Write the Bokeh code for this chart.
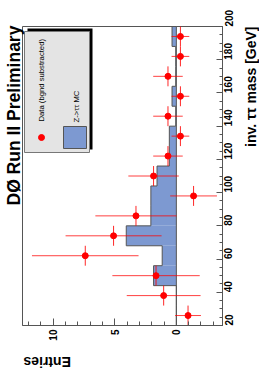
import math
from bokeh.plotting import figure
from bokeh.models import Range1d, SingleIntervalTicker, Label, LinearAxis
from bokeh.embed import file_html
from bokeh.resources import INLINE

# ---------------- data ----------------
bin_width = 12.0
bin_centers = [26, 38, 50, 62, 74, 86, 98, 110, 122, 134, 146, 158, 170, 182, 194]
mc_values = [0.0, 0.0, 1.85, 1.15, 4.07, 2.07, 2.07, 1.57, 0.57, 0.57, 0.05, 0.35, 0.05, 0.05, 0.35]
data_values = [-0.95, 1.03, 1.65, 7.4, 5.1, 3.28, -1.4, 1.85, 0.68, -0.33, 0.68, -0.33, 0.68, -0.33, -0.33]
data_errors = [1.05, 3.0, 3.55, 4.33, 3.9, 3.3, 1.9, 2.05, 1.2, 0.72, 1.2, 0.72, 1.2, 0.72, 0.72]

title_text = "DØ Run II Preliminary"
x_title = "inv. ττ mass [GeV]"
y_title = "Entries"
legend_data = "Data (bgnd substracted)"
legend_mc = "Z->ττ MC"

# ---------------- layout ----------------
W, H = 259, 382
OFF = 0
ENT_START, ENT_END = 12.5, -3.75   # entries axis, drawn right-to-left
M_START, M_END = 20.0, 200.0       # mass axis, bottom-to-top
FL, FR, FT, FB = 22, 222, 26, 325  # plot box in picture pixels


def ex(px):
    return ENT_START + (px - FL) * (ENT_END - ENT_START) / (FR - FL)


def my(py):
    return M_END - (py - FT) * (M_END - M_START) / (FB - FT)


BLUE = "#7d99d1"
RED = "#ff0000"
GRAY = "#555555"
FONT = "Liberation Sans"

p = figure(width=W, height=H, output_backend="svg", toolbar_location=None,
           title=None, x_range=Range1d(ex(OFF), ex(OFF + W)),
           y_range=Range1d(my(OFF + H), my(OFF)),
           x_axis_location=None, y_axis_location=None, min_border=0)
p.grid.visible = False
p.outline_line_color = None
p.background_fill_color = "white"
p.border_fill_color = "white"

# axes, fixed on the plot box edges
xa = LinearAxis(fixed_location=M_START, bounds=(ENT_END, ENT_START))
xa.ticker = SingleIntervalTicker(interval=5, num_minor_ticks=5)
xa.major_tick_in = 7
xa.major_tick_out = 0
xa.minor_tick_in = 4
xa.minor_tick_out = 0
xa.axis_line_color = GRAY
xa.major_tick_line_color = GRAY
xa.minor_tick_line_color = GRAY
xa.major_label_orientation = math.pi / 2
xa.major_label_standoff = 4
xa.major_label_text_font = FONT
xa.major_label_text_font_style = "bold"
xa.major_label_text_font_size = "10px"
xa.major_label_text_color = "black"
p.add_layout(xa, "below")

ya = LinearAxis(fixed_location=ENT_END, bounds=(M_START, M_END))
ya.ticker = SingleIntervalTicker(interval=20, num_minor_ticks=4)
ya.major_tick_in = 6
ya.major_tick_out = 0
ya.minor_tick_in = 3
ya.minor_tick_out = 0
ya.axis_line_color = GRAY
ya.major_tick_line_color = GRAY
ya.minor_tick_line_color = GRAY
ya.major_label_orientation = math.pi / 2
ya.major_label_standoff = 6
ya.major_label_text_font = FONT
ya.major_label_text_font_style = "bold"
ya.major_label_text_font_size = "10px"
ya.major_label_text_color = "black"
p.add_layout(ya, "right")

# plot box (top and left sides)
p.quad(left=ENT_END, right=ENT_START, bottom=M_START, top=M_END,
       fill_color=None, line_color=GRAY, line_width=1)

# MC histogram (filled, with step outline)
edges_lo = [c - bin_width / 2 for c in bin_centers]
edges_hi = [c + bin_width / 2 for c in bin_centers]
p.hbar(y=bin_centers, height=bin_width, left=0, right=mc_values,
       fill_color=BLUE, line_color=None)
step_x, step_y = [0.0], [edges_lo[0]]
for lo, hi, v in zip(edges_lo, edges_hi, mc_values):
    step_x += [v, v]
    step_y += [lo, hi]
step_x.append(0.0)
step_y.append(edges_hi[-1])
p.line(step_x, step_y, line_color=GRAY, line_width=1)
p.segment(x0=[0], x1=[0], y0=[edges_lo[0]], y1=[edges_hi[-1]],
          line_color=GRAY, line_width=1)

# data points with errors
x0 = [v - e for v, e in zip(data_values, data_errors)]
x1 = [v + e for v, e in zip(data_values, data_errors)]
p.segment(x0=x0, x1=x1, y0=bin_centers, y1=bin_centers, line_color=RED,
          line_width=1, line_alpha=0.75)
p.segment(x0=data_values, x1=data_values, y0=edges_lo, y1=edges_hi,
          line_color=RED, line_width=1, line_alpha=0.85)
p.scatter(data_values, bin_centers, size=6, fill_color=RED, line_color=RED)

# legend box with shadow
p.quad(left=ex(27), right=ex(92), top=my(28), bottom=my(149),
       fill_color="black", line_color=None)
p.quad(left=ex(24), right=ex(89), top=my(31), bottom=my(152),
       fill_color="#e4e4e4", line_color="#777777", line_width=1)
p.scatter([ex(41)], [my(137)], size=6, fill_color=RED, line_color=RED)
p.quad(left=ex(63), right=ex(86), top=my(126), bottom=my(148),
       fill_color=BLUE, line_color=GRAY, line_width=1)
p.add_layout(Label(x=ex(41), y=my(121), text=legend_data, angle=math.pi / 2,
                   text_align="left", text_baseline="middle",
                   text_font=FONT, text_font_size="7.7px",
                   text_color="black"))
p.add_layout(Label(x=ex(75.5), y=my(122), text=legend_mc, angle=math.pi / 2,
                   text_align="left", text_baseline="middle",
                   text_font=FONT, text_font_size="7.7px",
                   text_color="black"))

# title and axis titles (rotated like the picture)
p.add_layout(Label(x=ex(13), y=my(205), text=title_text, angle=math.pi / 2,
                   text_align="left", text_baseline="middle",
                   text_font=FONT, text_font_style="bold",
                   text_font_size="17.5px", text_color="black"))
p.add_layout(Label(x=ex(250.5), y=my(26), text=x_title, angle=math.pi / 2,
                   text_align="right", text_baseline="middle",
                   text_font=FONT, text_font_style="bold",
                   text_font_size="14px", text_color="black"))
p.add_layout(Label(x=ex(23), y=my(361.5), text=y_title, angle=math.pi,
                   text_align="right", text_baseline="middle",
                   text_font=FONT, text_font_style="bold",
                   text_font_size="14px", text_color="black"))

open("out.html", "w").write(file_html(p, INLINE))
